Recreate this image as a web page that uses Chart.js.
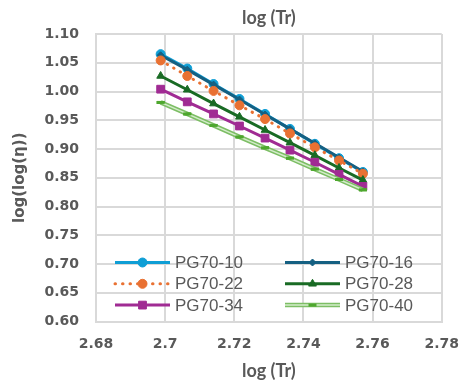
<!DOCTYPE html>
<html>
<head>
<meta charset="utf-8">
<script src="https://cdn.jsdelivr.net/npm/chart.js@4"></script>
<style>
  html, body { margin: 0; padding: 0; background: #fff; }
</style>
</head>
<body>
<canvas id="chart" width="473" height="388"></canvas>
<script>
// log of temperature (Rankine), one entry per test temperature
const logTr = [2.6987, 2.7064, 2.7140, 2.7215, 2.7289, 2.7361, 2.7433, 2.7503, 2.7572];

// log(log(viscosity)) for each binder grade
const pg70_10 = [1.065, 1.040, 1.013, 0.987, 0.961, 0.935, 0.909, 0.884, 0.860];
const pg70_16 = [1.063, 1.038, 1.012, 0.986, 0.960, 0.935, 0.910, 0.885, 0.861];
const pg70_22 = [1.054, 1.027, 1.001, 0.976, 0.952, 0.927, 0.903, 0.880, 0.857];
const pg70_28 = [1.027, 1.003, 0.979, 0.956, 0.933, 0.911, 0.889, 0.867, 0.846];
const pg70_34 = [1.004, 0.982, 0.961, 0.940, 0.919, 0.898, 0.877, 0.856, 0.835];
const pg70_40 = [0.981, 0.961, 0.941, 0.921, 0.902, 0.884, 0.865, 0.847, 0.829];

const seriesNames = ['PG70-10', 'PG70-16', 'PG70-22', 'PG70-28', 'PG70-34', 'PG70-40'];
const seriesValues = [pg70_10, pg70_16, pg70_22, pg70_28, pg70_34, pg70_40];

const styles = [
  { color: '#0F9ED5', pointStyle: 'circle', pointRadius: 4.5 },
  { color: '#156082', pointStyle: 'rectRot', pointRadius: 3.5 },
  { color: '#E97132', pointStyle: 'circle', pointRadius: 4.5, dash: [0.5, 7], cap: 'round' },
  { color: '#196B24', pointStyle: 'triangle', pointRadius: 4.5 },
  { color: '#A02B93', pointStyle: 'rect', pointRadius: 5.5 },
  { color: '#7DBE65', pointStyle: 'line', pointRadius: 4, inner: '#D4ECCB', marker: '#4EA72E' }
];

const textGrey = '#595959';
const gridGrey = '#D9D9D9';

const datasets = seriesNames.map((name, i) => {
  const s = styles[i];
  return {
    label: name,
    data: logTr.map((x, j) => ({ x: x, y: seriesValues[i][j] })),
    borderColor: s.color,
    backgroundColor: s.marker || s.color,
    borderWidth: s.inner ? 4.5 : 3,
    borderDash: s.dash || [],
    borderCapStyle: s.cap || 'butt',
    pointStyle: s.pointStyle,
    pointRadius: s.pointRadius,
    pointBackgroundColor: s.marker || s.color,
    pointBorderColor: s.marker || s.color,
    pointBorderWidth: s.pointStyle === 'line' ? 3 : 1,
    innerColor: s.inner,
    tension: 0,
    fill: false,
    order: seriesNames.length - 1 - i
  };
});

// pale centre stroke for the double-line series, markers redrawn on top
const doubleLine = {
  id: 'doubleLine',
  afterDatasetDraw(chart, args) {
    const ds = chart.data.datasets[args.index];
    if (!ds.innerColor) return;
    const ctx = chart.ctx;
    const pts = args.meta.data;
    ctx.save();
    ctx.strokeStyle = ds.innerColor;
    ctx.lineWidth = 1.5;
    ctx.beginPath();
    pts.forEach((p, k) => k ? ctx.lineTo(p.x, p.y) : ctx.moveTo(p.x, p.y));
    ctx.stroke();
    ctx.restore();
    pts.forEach(p => p.draw(ctx, chart.chartArea));
  }
};

// two-column legend drawn inside the plot area
const insideLegend = {
  id: 'insideLegend',
  afterDatasetsDraw(chart) {
    const { ctx, chartArea } = chart;
    chart.data.datasets.forEach((ds, i) => {
      const col = i % 2;
      const row = Math.floor(i / 2);
      const x0 = chartArea.left + (col ? 189 : 19);
      const x1 = x0 + 55;
      const y = chartArea.bottom - 59 + row * 21.3;
      ctx.save();
      ctx.strokeStyle = ds.borderColor;
      ctx.lineWidth = ds.borderWidth;
      ctx.lineCap = ds.borderCapStyle;
      ctx.setLineDash(ds.borderDash);
      ctx.beginPath();
      ctx.moveTo(x0, y);
      ctx.lineTo(x1, y);
      ctx.stroke();
      if (ds.innerColor) {
        ctx.strokeStyle = ds.innerColor;
        ctx.lineWidth = 1.5;
        ctx.beginPath();
        ctx.moveTo(x0, y);
        ctx.lineTo(x1, y);
        ctx.stroke();
      }
      ctx.setLineDash([]);
      ctx.lineCap = 'butt';
      ctx.fillStyle = ds.pointBackgroundColor;
      ctx.strokeStyle = ds.pointBorderColor;
      ctx.lineWidth = ds.pointBorderWidth;
      Chart.helpers.drawPoint(ctx, {
        pointStyle: ds.pointStyle,
        radius: ds.pointRadius,
        borderWidth: ds.pointBorderWidth,
        rotation: 0
      }, (x0 + x1) / 2, y);
      ctx.fillStyle = textGrey;
      ctx.font = '17px "Liberation Sans", Arial, sans-serif';
      ctx.textBaseline = 'middle';
      ctx.textAlign = 'left';
      ctx.fillText(ds.label, x1 + 5, y + 1);
      ctx.restore();
    });
  }
};

const tickFont = { family: '"DejaVu Sans", sans-serif', size: 14, weight: 'bold' };
const titleFont = { family: 'Lato, "Open Sans", sans-serif', size: 18, weight: 'bold', lineHeight: 1.2 };

new Chart(document.getElementById('chart').getContext('2d'), {
  type: 'line',
  data: { datasets: datasets },
  plugins: [doubleLine, insideLegend],
  options: {
    responsive: false,
    animation: false,
    layout: { padding: { left: 0, right: 19, top: 0, bottom: 0 } },
    plugins: {
      legend: { display: false },
      tooltip: { enabled: false },
      title: {
        display: true,
        fullSize: false,
        text: 'log (Tr)',
        color: textGrey,
        font: titleFont,
        padding: { top: 7, bottom: 5.4 }
      }
    },
    scales: {
      x: {
        type: 'linear',
        min: 2.68,
        max: 2.78,
        ticks: {
          stepSize: 0.02,
          color: textGrey,
          font: tickFont,
          padding: 14,
          maxRotation: 0,
          callback: v => String(parseFloat(v.toFixed(2)))
        },
        grid: { color: gridGrey, lineWidth: 2, drawTicks: false },
        border: { color: gridGrey, width: 2 },
        title: {
          display: true,
          text: 'log (Tr)',
          color: textGrey,
          font: titleFont,
          padding: { top: 0, bottom: 6 }
        },
        afterFit: s => { s.height = 66.5; }
      },
      y: {
        min: 0.6,
        max: 1.1,
        ticks: {
          stepSize: 0.05,
          color: textGrey,
          font: tickFont,
          padding: 17,
          callback: v => v.toFixed(2)
        },
        grid: { color: gridGrey, lineWidth: 2, drawTicks: false },
        border: { color: gridGrey, width: 2 },
        title: {
          display: true,
          text: 'log(log(η))',
          color: textGrey,
          font: { family: '"DejaVu Sans", sans-serif', size: 15, weight: 'bold', lineHeight: 1.2 },
          padding: { top: 11, bottom: 0 }
        },
        afterFit: s => { s.width = 96; }
      }
    }
  }
});
</script>
</body>
</html>
